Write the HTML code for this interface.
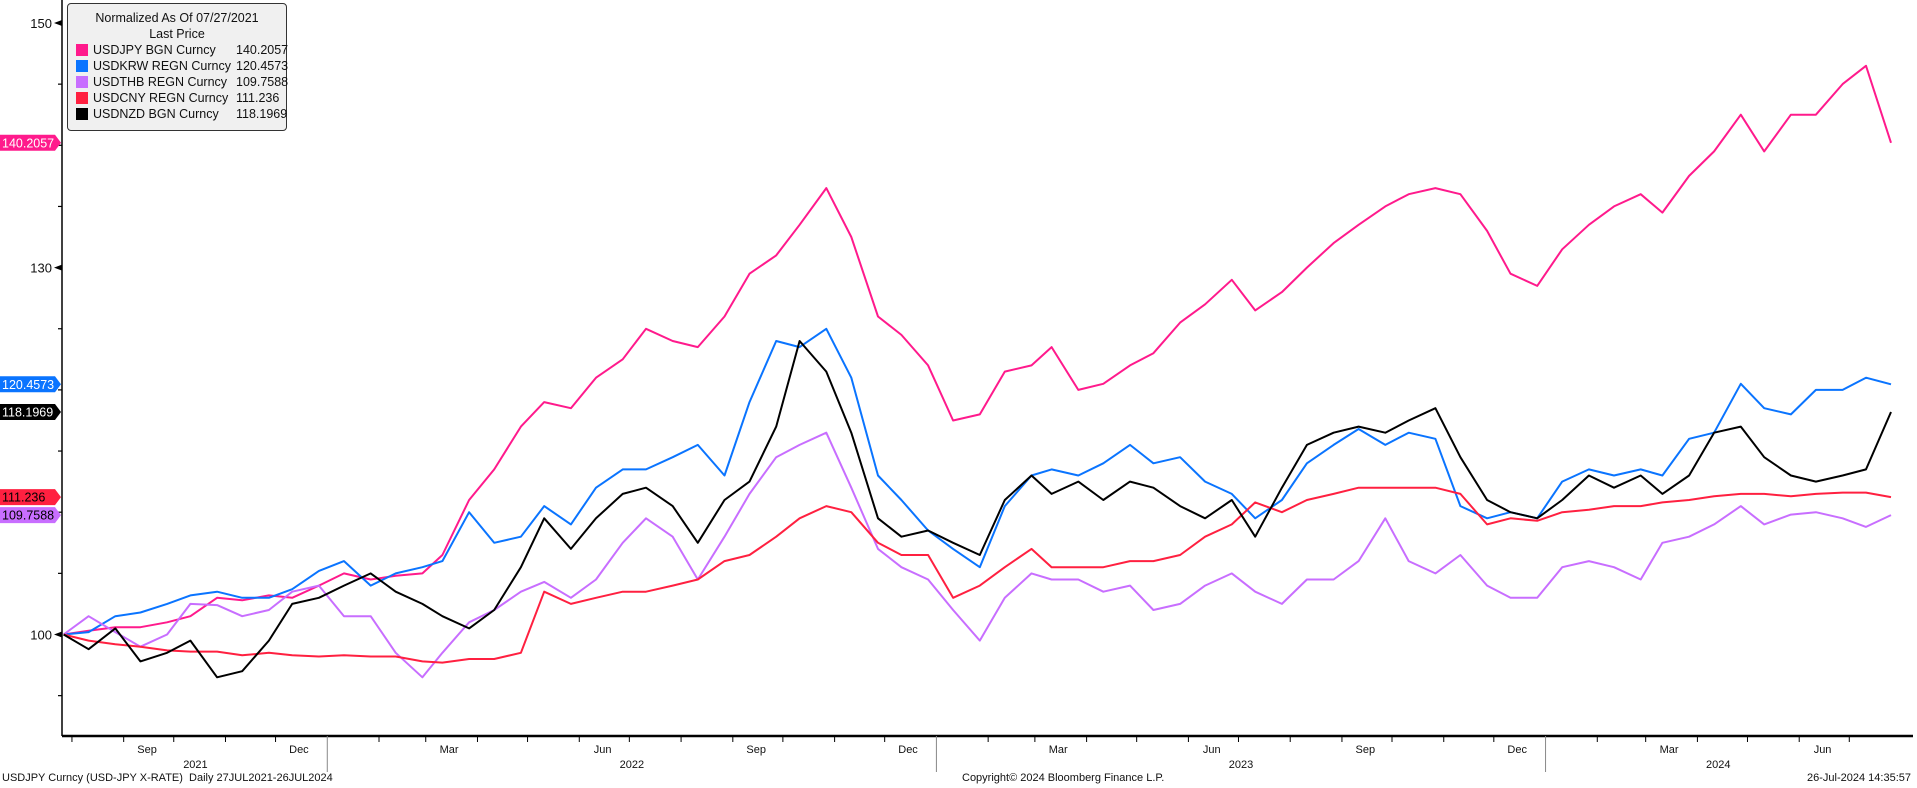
<!DOCTYPE html>
<html><head><meta charset="utf-8">
<style>
html,body{margin:0;padding:0;background:#fff;}
body{width:1917px;height:788px;overflow:hidden;position:relative;font-family:"Liberation Sans",sans-serif;}
svg{position:absolute;left:0;top:0;}
.legend{position:absolute;left:67px;top:3px;width:218px;height:126px;background:#f0f0f0;border:1px solid #333;border-radius:4px;font-size:12.5px;color:#111;}
.legend .t{text-align:center;line-height:16px;margin-top:6px;}
.legend .row{position:relative;height:16px;line-height:16px;margin-left:8px;}
.legend .sw{position:absolute;left:0;top:2px;width:12px;height:12px;}
.legend .nm{position:absolute;left:17px;}
.legend .vl{position:absolute;left:160px;}
.foot{position:absolute;top:772px;font-size:11px;color:#111;white-space:nowrap;}
</style></head>
<body>
<svg id="chart" width="1917" height="788"></svg>
<div class="legend">
 <div class="t">Normalized As Of 07/27/2021<br>Last Price</div>
 <div class="row"><span class="sw" style="background:#ff1a8c"></span><span class="nm">USDJPY BGN Curncy</span><span class="vl">140.2057</span></div>
 <div class="row"><span class="sw" style="background:#0a74ff"></span><span class="nm">USDKRW REGN Curncy</span><span class="vl">120.4573</span></div>
 <div class="row"><span class="sw" style="background:#c86eff"></span><span class="nm">USDTHB REGN Curncy</span><span class="vl">109.7588</span></div>
 <div class="row"><span class="sw" style="background:#ff2040"></span><span class="nm">USDCNY REGN Curncy</span><span class="vl">111.236</span></div>
 <div class="row"><span class="sw" style="background:#000"></span><span class="nm">USDNZD BGN Curncy</span><span class="vl">118.1969</span></div>
</div>
<div class="foot" style="left:2px">USDJPY Curncy (USD-JPY X-RATE)&nbsp; Daily 27JUL2021-26JUL2024</div>
<div class="foot" style="left:962px">Copyright© 2024 Bloomberg Finance L.P.</div>
<div class="foot" style="right:6px">26-Jul-2024 14:35:57</div>
<script>
const dates = ["2021-07-27",
"2021-08-11","2021-08-27","2021-09-11","2021-09-27","2021-10-11","2021-10-27","2021-11-11","2021-11-27","2021-12-11","2021-12-27",
"2022-01-11","2022-01-27","2022-02-11","2022-02-27","2022-03-11","2022-03-27","2022-04-11","2022-04-27","2022-05-11","2022-05-27","2022-06-11","2022-06-27",
"2022-07-11","2022-07-27","2022-08-11","2022-08-27","2022-09-11","2022-09-27","2022-10-11","2022-10-27","2022-11-11","2022-11-27","2022-12-11","2022-12-27",
"2023-01-11","2023-01-27","2023-02-11","2023-02-27","2023-03-11","2023-03-27","2023-04-11","2023-04-27","2023-05-11","2023-05-27","2023-06-11","2023-06-27",
"2023-07-11","2023-07-27","2023-08-11","2023-08-27","2023-09-11","2023-09-27","2023-10-11","2023-10-27","2023-11-11","2023-11-27","2023-12-11","2023-12-27",
"2024-01-11","2024-01-27","2024-02-11","2024-02-27","2024-03-11","2024-03-27","2024-04-11","2024-04-27","2024-05-11","2024-05-27","2024-06-11","2024-06-27",
"2024-07-11","2024-07-26"];
const jpy = [100,100.3,100.6,100.6,101,101.5,103,102.8,103.2,103,104,105,104.5,104.8,105,106.5,111,113.5,117,119,118.5,121,122.5,125,124,123.5,126,129.5,131,133.5,136.5,132.5,126,124.5,122,117.5,118,121.5,122,123.5,120,120.5,122,123,125.5,127,129,126.5,128,130,132,133.5,135,136,136.5,136,133,129.5,128.5,131.5,133.5,135,136,134.5,137.5,139.5,142.5,139.5,142.5,142.5,145,146.5,140.2057];
const krw = [100,100.2,101.5,101.8,102.5,103.2,103.5,103,103,103.7,105.2,106,104,105,105.5,106,110,107.5,108,110.5,109,112,113.5,113.5,114.5,115.5,113,119,124,123.5,125,121,113,111,108.5,107,105.5,110.5,113,113.5,113,114,115.5,114,114.5,112.5,111.5,109.5,111,114,115.5,116.8,115.5,116.5,116,110.5,109.5,110,109.5,112.5,113.5,113,113.5,113,116,116.5,120.5,118.5,118,120,120,121,120.4573];
const thb = [100,101.5,100.2,99,100,102.5,102.4,101.5,102,103.5,104,101.5,101.5,98.5,96.5,98.5,101,102,103.5,104.3,103,104.5,107.5,109.5,108,104.5,108,111.5,114.5,115.5,116.5,112,107,105.5,104.5,102,99.5,103,105,104.5,104.5,103.5,104,102,102.5,104,105,103.5,102.5,104.5,104.5,106,109.5,106,105,106.5,104,103,103,105.5,106,105.5,104.5,107.5,108,109,110.5,109,109.8,110,109.5,108.8,109.7588];
const cny = [100,99.5,99.2,99,98.7,98.6,98.6,98.3,98.5,98.3,98.2,98.3,98.2,98.2,97.8,97.7,98,98,98.5,103.5,102.5,103,103.5,103.5,104,104.5,106,106.5,108,109.5,110.5,110,107.5,106.5,106.5,103,104,105.5,107,105.5,105.5,105.5,106,106,106.5,108,109,110.8,110,111,111.5,112,112,112,112,111.5,109,109.5,109.3,110,110.2,110.5,110.5,110.8,111,111.3,111.5,111.5,111.3,111.5,111.6,111.6,111.236];
const nzd = [100,98.8,100.5,97.8,98.5,99.5,96.5,97,99.5,102.5,103,104,105,103.5,102.5,101.5,100.5,102,105.5,109.5,107,109.5,111.5,112,110.5,107.5,111,112.5,117,124,121.5,116.5,109.5,108,108.5,107.5,106.5,111,113,111.5,112.5,111,112.5,112,110.5,109.5,111,108,112,115.5,116.5,117,116.5,117.5,118.5,114.5,111,110,109.5,111,113,112,113,111.5,113,116.5,117,114.5,113,112.5,113,113.5,118.1969];
const seriesNames = ["usdjpy","usdkrw","usdthb","usdcny","usdnzd"];
const seriesColors = ["#ff1a8c","#0a74ff","#c86eff","#ff2040","#000000"];
const seriesData = [jpy,krw,thb,cny,nzd];
const lastLabels = ["140.2057","120.4573","109.7588","111.236","118.1969"];
const yTickValues = [95,100,105,110,115,120,125,130,135,140,145,150];
const yTickLabels = ["100","130","150"];
const yearLabels = ["2021","2022","2023","2024"];

const NS="http://www.w3.org/2000/svg";
const svg=document.getElementById('chart');
const X0=63.6,X1=1891,AXL=62,AXR=1913,AXB=736;
const t0=Date.parse(dates[0]),t1=Date.parse(dates[dates.length-1]);
function xs(d){return X0+(Date.parse(d)-t0)/(t1-t0)*(X1-X0);}
function ys(v){return 634.5-(v-100)*12.23;}
function mk(tag,attrs){const e=document.createElementNS(NS,tag);for(const k in attrs)e.setAttribute(k,attrs[k]);svg.appendChild(e);return e;}

// axes
let e=mk('line',{x1:AXL,y1:0,x2:AXL,y2:AXB,stroke:'#000','stroke-width':1.5});


e=mk('line',{x1:AXL,y1:AXB,x2:AXR,y2:AXB,stroke:'#000','stroke-width':2.5});


yTickValues.forEach(v=>{
  const y=ys(v);
  const t=mk('line',{x1:AXL-4,y1:y,x2:AXL,y2:y,stroke:'#000','stroke-width':1.2});
  
  
});
yTickLabels.forEach(l=>{
  const y=ys(+l);
  const p=mk('path',{d:`M${AXL-8},${y} L${AXL},${y-3} L${AXL},${y+3}Z`,fill:'#000'});
  
  
  const t=mk('text',{x:AXL-10,y:y+5,'text-anchor':'end','font-size':13,fill:'#111','font-family':'Liberation Sans, sans-serif'});
  t.textContent=l;
  
  
});
// month ticks
const mnames=["Jan","Feb","Mar","Apr","May","Jun","Jul","Aug","Sep","Oct","Nov","Dec"];
for(let y=2021;y<=2024;y++){for(let m=0;m<12;m++){
  const ds=`${y}-${String(m+1).padStart(2,'0')}-01`;
  const tt=Date.parse(ds); if(tt<t0||tt>t1) continue;
  const x=xs(ds);
  const isYear=m===0;
  const tk=mk('line',{x1:x,y1:AXB,x2:x,y2:isYear?772:742,stroke:isYear?'#888':'#000','stroke-width':1});
  
  
  if(m%3===2){
    const lx=xs(`${y}-${String(m+1).padStart(2,'0')}-15`);
    const t=mk('text',{x:lx,y:753,'text-anchor':'middle','font-size':11,fill:'#111','font-family':'Liberation Sans, sans-serif'});
    t.textContent=mnames[m];
    
    
  }
}}
yearLabels.forEach(yl=>{
  let a=Math.max(t0,Date.parse(yl+"-01-01")),b=Math.min(t1,Date.parse((+yl+1)+"-01-01"));
  const xm=X0+((a+b)/2-t0)/(t1-t0)*(X1-X0);
  const t=mk('text',{x:xm,y:768,'text-anchor':'middle','font-size':11,fill:'#111','font-family':'Liberation Sans, sans-serif'});
  t.textContent=yl;
  
  
});
// series
seriesData.forEach((arr,i)=>{
  const d=arr.map((v,k)=>(k?'L':'M')+xs(dates[k]).toFixed(1)+','+ys(v).toFixed(1)).join(' ');
  const p=mk('path',{d:d,fill:'none',stroke:seriesColors[i],'stroke-width':2,'stroke-linejoin':'round'});
  
  
});
// last value tags
seriesData.forEach((arr,i)=>{
  const y=ys(arr[arr.length-1]);
  const g=mk('path',{d:`M0,${y-8} L55,${y-8} L61,${y} L55,${y+8} L0,${y+8}Z`,fill:seriesColors[i]});
  
  
  const t=mk('text',{x:2,y:y+4.5,'font-size':12.5,fill:(i===2||i===3)?'#000':'#fff','font-family':'Liberation Sans, sans-serif'});
  t.textContent=lastLabels[i];
  
  
});
</script>
</body></html>
